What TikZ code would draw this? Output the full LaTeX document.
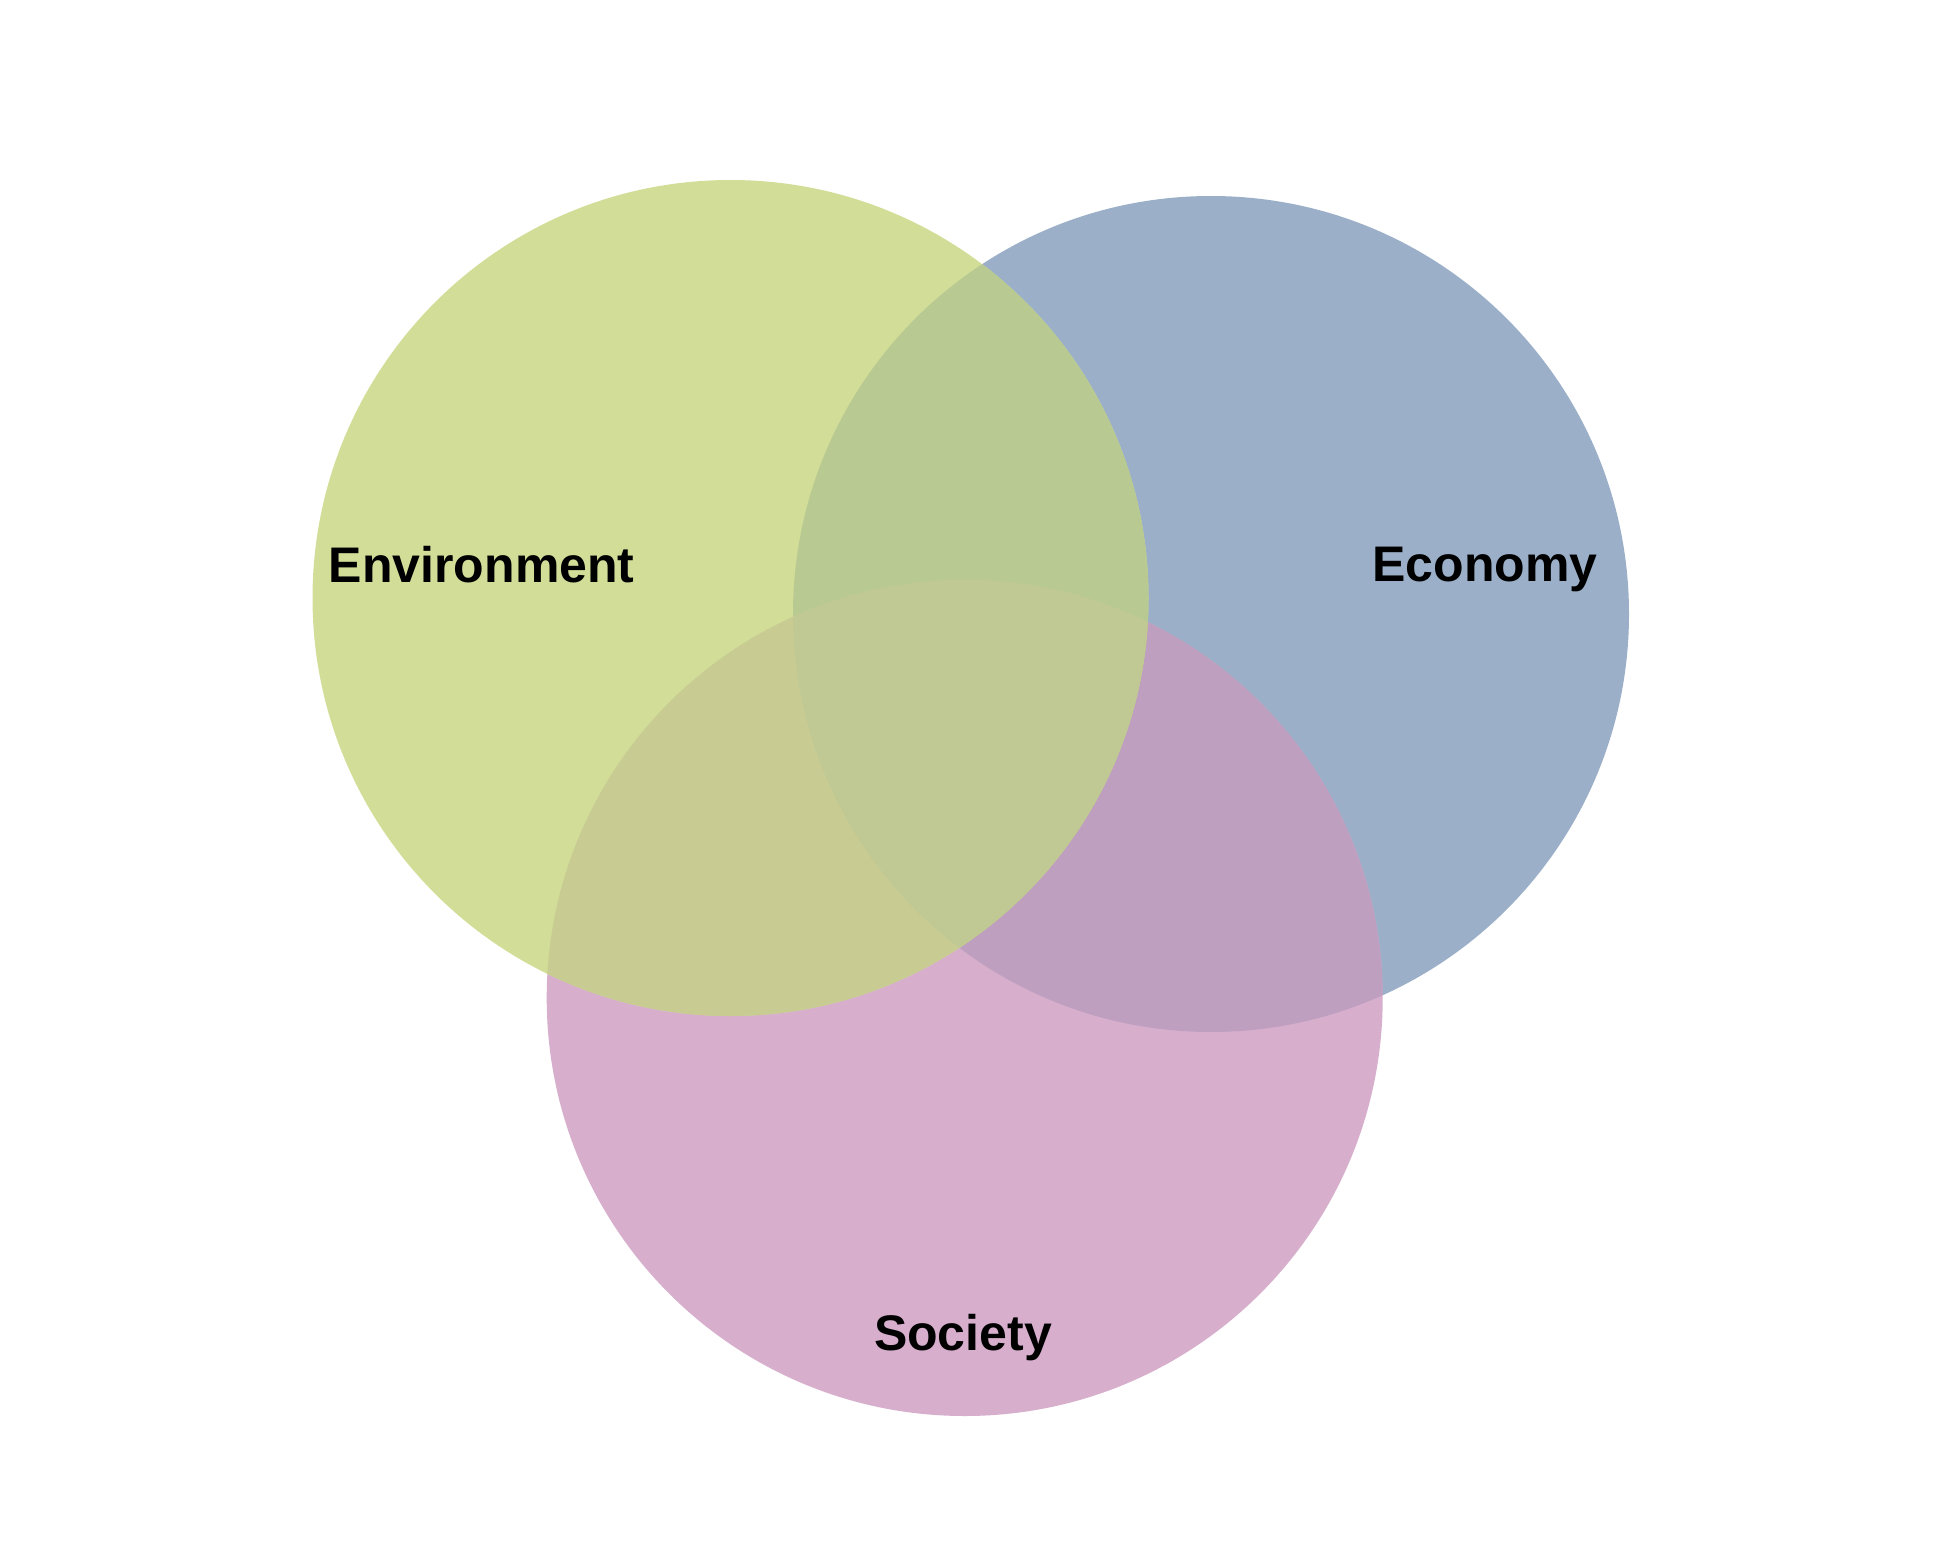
\documentclass[tikz,border=0pt]{standalone}
\usepackage{fontspec}
\setmainfont{Liberation Sans}
\definecolor{cgreen}{HTML}{D2DD98}
\definecolor{cblue}{HTML}{9BB0C8}
\definecolor{cpink}{HTML}{D7AFCD}
\definecolor{cgb}{HTML}{B8C991}
\definecolor{cgp}{HTML}{C8CC93}
\definecolor{cbp}{HTML}{BE9FBF}
\definecolor{cgbp}{HTML}{C0C993}
\tikzset{
  lbl/.style={anchor=base, inner sep=0pt, font=\fontsize{50}{60}\selectfont\bfseries, text=black}
}
\begin{document}
\begin{tikzpicture}[x=1pt,y=-1pt]
\useasboundingbox (0,0) rectangle (1943,1557);
\fill[white] (0,0) rectangle (1943,1557);
\def\envc{(730.5,598)}
\def\ecoc{(1211,614)}
\def\socc{(964.7,998)}
\def\rr{418}
\fill[cblue] \ecoc circle (\rr);
\fill[cpink] \socc circle (\rr);
\fill[cgreen] \envc circle (\rr);
\begin{scope}
  \clip \ecoc circle (\rr);
  \fill[cbp] \socc circle (\rr);
\end{scope}
\begin{scope}
  \clip \envc circle (\rr);
  \fill[cgb] \ecoc circle (\rr);
  \fill[cgp] \socc circle (\rr);
  \clip \ecoc circle (\rr);
  \fill[cgbp] \socc circle (\rr);
\end{scope}
\node[lbl] (env) at (481.7,582) {Environment};
\node[lbl] (eco) at (1485,581) {Economy};
\node[lbl] (soc) at (963,1350) {Society};
\end{tikzpicture}
\end{document}
